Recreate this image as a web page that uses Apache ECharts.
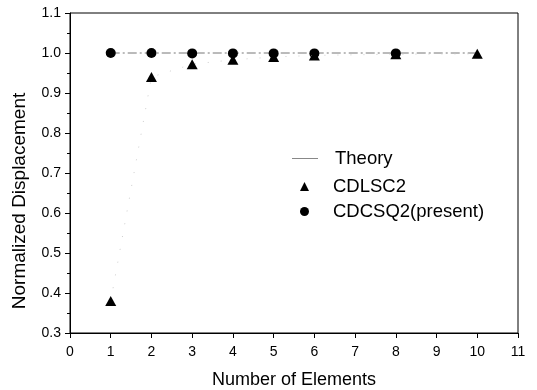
<!DOCTYPE html>
<html>
<head>
<meta charset="utf-8">
<script src="https://cdn.jsdelivr.net/npm/echarts@6/dist/echarts.min.js"></script>
<style>
  html, body { margin: 0; padding: 0; background: #fff; }
  #main { width: 537px; height: 390px; }
</style>
</head>
<body>
<div id="main"></div>
<script>
// values
const theoryX = [1, 10]
const theoryY = [1.0, 1.0]
const lscX = [1, 2, 3, 4, 5, 6, 8, 10]
const lscY = [0.38, 0.94, 0.972, 0.983, 0.99, 0.994, 0.997, 0.998]
const csqX = [1, 2, 3, 4, 5, 6, 8]
const csqY = [1.0, 1.0, 0.999, 0.999, 0.999, 0.999, 0.999]

const pairs = (xs, ys) => xs.map((x, i) => [x, ys[i]])
const font = 'Liberation Sans, Arial, sans-serif'

const chart = echarts.init(document.getElementById('main'))
chart.setOption({
  animation: false,
  grid: {
    left: 70, right: 19, top: 13, bottom: 57,
    outerBoundsMode: 'none',
    show: true, borderColor: '#000', borderWidth: 1
  },
  legend: [
    {
      data: [{ name: 'Theory', icon: 'rect', itemStyle: { color: '#888' } }],
      orient: 'vertical',
      left: 292, top: 149, padding: 0,
      itemWidth: 26, itemHeight: 1,
      textStyle: { fontFamily: font, fontSize: 18.5, color: '#000', padding: [0, 0, 0, 12] }
    },
    {
      data: [
        { name: 'CDLSC2', icon: 'triangle' },
        { name: 'CDCSQ2(present)', icon: 'circle' }
      ],
      orient: 'vertical',
      left: 300, top: 177, padding: 0,
      itemWidth: 9, itemHeight: 9,
      itemGap: 6,
      textStyle: { fontFamily: font, fontSize: 18.5, color: '#000', padding: [0, 0, 0, 19] }
    }
  ],
  xAxis: {
    type: 'value',
    min: 0, max: 11, interval: 1,
    name: 'Number of Elements',
    nameLocation: 'middle', nameGap: 38,
    nameTextStyle: { fontFamily: font, fontSize: 18, color: '#000' },
    axisLine: { lineStyle: { color: '#000' } },
    axisTick: { inside: false, length: 5, lineStyle: { color: '#000' } },
    axisLabel: { fontFamily: font, fontSize: 14, color: '#000', margin: 12 },
    splitLine: { show: false }
  },
  yAxis: {
    type: 'value',
    min: 0.3, max: 1.1, interval: 0.1,
    name: 'Normalized Displacement',
    nameLocation: 'middle', nameGap: 41,
    nameTextStyle: { fontFamily: font, fontSize: 19, color: '#000', padding: [0, 56, 0, 0] },
    axisLine: { lineStyle: { color: '#000' } },
    axisTick: { inside: false, length: 5, lineStyle: { color: '#000' } },
    minorTick: { show: true, splitNumber: 2, length: 3, lineStyle: { color: '#000' } },
    axisLabel: { fontFamily: font, fontSize: 14, color: '#000', margin: 9, formatter: v => v.toFixed(1) },
    splitLine: { show: false }
  },
  series: [
    {
      name: 'Theory',
      type: 'line',
      data: pairs(theoryX, theoryY),
      symbol: 'none',
      itemStyle: { color: '#777' },
      lineStyle: { color: '#777', width: 1, type: [9, 3, 2, 3] },
      z: 1
    },
    {
      name: 'CDLSC2',
      type: 'line',
      data: pairs(lscX, lscY),
      symbol: 'triangle',
      symbolSize: [11, 10],
      itemStyle: { color: '#000', opacity: 1 },
      lineStyle: { color: '#ccc', width: 1, type: [1, 12] },
      z: 3
    },
    {
      name: 'CDCSQ2(present)',
      type: 'scatter',
      data: pairs(csqX, csqY),
      symbol: 'circle',
      symbolSize: 10,
      itemStyle: { color: '#000', opacity: 1 },
      z: 2
    }
  ]
})
</script>
</body>
</html>
